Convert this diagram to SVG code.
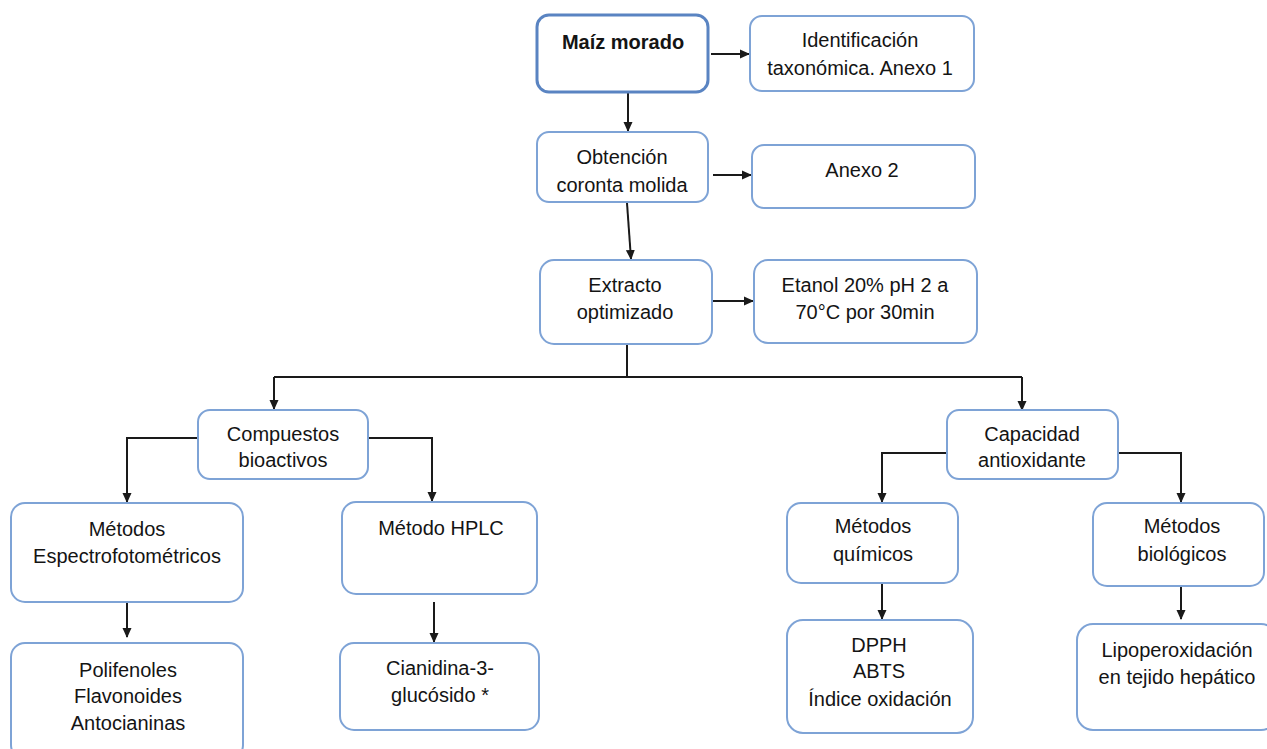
<svg xmlns="http://www.w3.org/2000/svg" width="1267" height="749" viewBox="0 0 1267 749">
<style>
.box{fill:#fff;stroke:#7ea3d6;stroke-width:2}
.main{fill:#fff;stroke:#5a84c2;stroke-width:3}
text{font-family:"Liberation Sans",Arial,sans-serif;font-size:20px;fill:#141414;text-anchor:middle}
.b{font-weight:bold}
.ln{fill:none;stroke:#1a1a1a;stroke-width:2}
</style>
<defs>
<marker id="ah" markerWidth="10" markerHeight="10" refX="9" refY="5" orient="auto" markerUnits="userSpaceOnUse">
<path d="M0,0.5 L10,5 L0,9.5 Z" fill="#1a1a1a"/>
</marker>
</defs>
<rect width="1267" height="749" fill="#fff"/>
<g id="connectors">
<line class="ln" x1="711" y1="54" x2="749" y2="54" marker-end="url(#ah)"/>
<line class="ln" x1="628" y1="93" x2="628" y2="131" marker-end="url(#ah)"/>
<line class="ln" x1="713" y1="175" x2="751" y2="175" marker-end="url(#ah)"/>
<line class="ln" x1="627" y1="203" x2="631" y2="259" marker-end="url(#ah)"/>
<line class="ln" x1="713" y1="301" x2="753" y2="301" marker-end="url(#ah)"/>
<polyline class="ln" points="627,344 627,377"/>
<line class="ln" x1="274" y1="377" x2="1022" y2="377"/>
<line class="ln" x1="274" y1="377" x2="274" y2="409" marker-end="url(#ah)"/>
<line class="ln" x1="1022" y1="377" x2="1022" y2="410" marker-end="url(#ah)"/>
<polyline class="ln" points="198,438 127,438 127,502" marker-end="url(#ah)"/>
<polyline class="ln" points="368,438 432,438 432,501" marker-end="url(#ah)"/>
<line class="ln" x1="127" y1="603" x2="127" y2="637" marker-end="url(#ah)"/>
<line class="ln" x1="434" y1="602" x2="434" y2="642" marker-end="url(#ah)"/>
<polyline class="ln" points="947,453 882,453 882,502" marker-end="url(#ah)"/>
<polyline class="ln" points="1118,453 1181,453 1181,502" marker-end="url(#ah)"/>
<line class="ln" x1="882" y1="584" x2="882" y2="619" marker-end="url(#ah)"/>
<line class="ln" x1="1181" y1="587" x2="1181" y2="619" marker-end="url(#ah)"/>
</g>
<g id="n-maiz"><rect class="main" x="537" y="15" width="171" height="77" rx="12"/><text class="b" x="623" y="49">Maíz morado</text></g>
<g id="n-ident"><rect class="box" x="750" y="16" width="224" height="75" rx="12"/><text x="860" y="47">Identificación</text><text x="860" y="75">taxonómica. Anexo 1</text></g>
<g id="n-obt"><rect class="box" x="537" y="132" width="171" height="70" rx="12"/><text x="622" y="164">Obtención</text><text x="622" y="192">coronta molida</text></g>
<g id="n-anexo2"><rect class="box" x="752" y="145" width="223" height="63" rx="12"/><text x="862" y="177">Anexo 2</text></g>
<g id="n-extracto"><rect class="box" x="540" y="260" width="172" height="84" rx="14"/><text x="625" y="292">Extracto</text><text x="625" y="319">optimizado</text></g>
<g id="n-etanol"><rect class="box" x="754" y="260" width="223" height="83" rx="14"/><text x="865" y="292">Etanol 20% pH 2 a</text><text x="865" y="319">70°C por 30min</text></g>
<g id="n-comp"><rect class="box" x="198" y="410" width="170" height="69" rx="12"/><text x="283" y="441">Compuestos</text><text x="283" y="467">bioactivos</text></g>
<g id="n-espectro"><rect class="box" x="11" y="503" width="232" height="99" rx="14"/><text x="127" y="536">Métodos</text><text x="127" y="563">Espectrofotométricos</text></g>
<g id="n-hplc"><rect class="box" x="342" y="502" width="195" height="92" rx="14"/><text x="441" y="535">Método HPLC</text></g>
<g id="n-polif"><rect class="box" x="11" y="643" width="232" height="116" rx="14"/><text x="128" y="677">Polifenoles</text><text x="128" y="703">Flavonoides</text><text x="128" y="730">Antocianinas</text></g>
<g id="n-cian"><rect class="box" x="340" y="643" width="199" height="87" rx="14"/><text x="440" y="675">Cianidina-3-</text><text x="440" y="702">glucósido *</text></g>
<g id="n-cap"><rect class="box" x="947" y="410" width="171" height="69" rx="12"/><text x="1032" y="441">Capacidad</text><text x="1032" y="467">antioxidante</text></g>
<g id="n-quim"><rect class="box" x="787" y="503" width="171" height="80" rx="14"/><text x="873" y="533">Métodos</text><text x="873" y="561">químicos</text></g>
<g id="n-bio"><rect class="box" x="1093" y="503" width="171" height="83" rx="14"/><text x="1182" y="533">Métodos</text><text x="1182" y="561">biológicos</text></g>
<g id="n-dpph"><rect class="box" x="787" y="620" width="186" height="113" rx="16"/><text x="879" y="652">DPPH</text><text x="879" y="678">ABTS</text><text x="880" y="706">Índice oxidación</text></g>
<g id="n-lipo"><rect class="box" x="1077" y="624" width="200" height="106" rx="16"/><text x="1177" y="657">Lipoperoxidación</text><text x="1177" y="684">en tejido hepático</text></g>
</svg>
